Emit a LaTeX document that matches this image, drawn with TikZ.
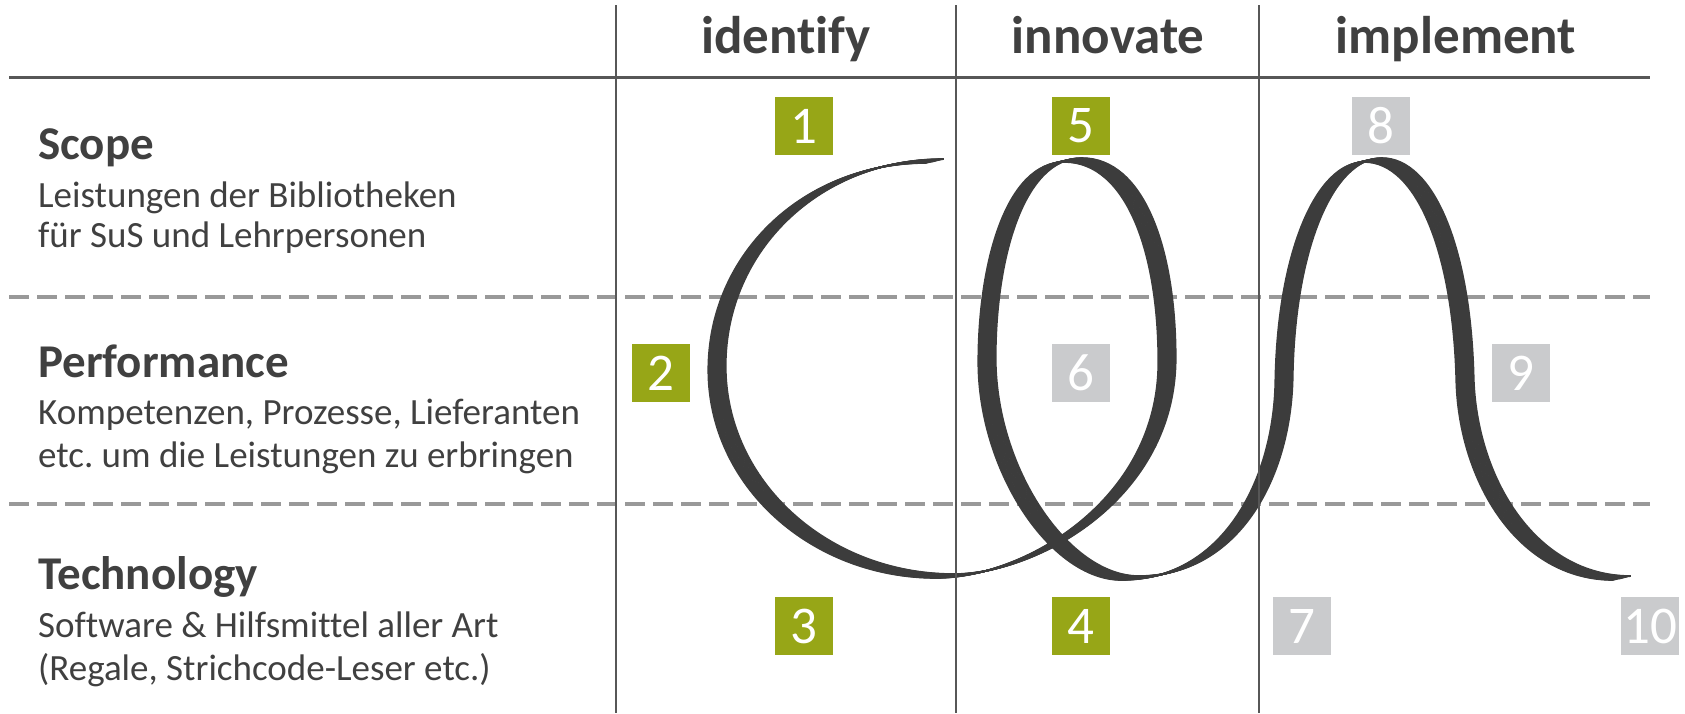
\documentclass[tikz,border=0pt]{standalone}
\usepackage{fontspec}
\setmainfont{Carlito}[Ligatures={NoCommon}]
\frenchspacing
\definecolor{txt}{HTML}{404040}
\definecolor{boxgreen}{HTML}{97A617}
\definecolor{boxgray}{HTML}{CACBCD}
\definecolor{rib}{HTML}{3C3C3C}
\definecolor{gridline}{HTML}{575757}
\definecolor{dashline}{HTML}{999999}
\begin{document}
\begin{tikzpicture}[x=1pt,y=-1pt,
  numbox/.style={minimum width=58pt, minimum height=58pt, inner sep=0pt, text=white, font=\fontsize{53}{60}\selectfont},
  greenbox/.style={numbox, fill=boxgreen},
  graybox/.style={numbox, fill=boxgray},
  header/.style={font=\bfseries\fontsize{53}{60}\selectfont, text=txt, anchor=base, inner sep=0pt},
  rowtitle/.style={font=\bfseries\fontsize{47}{54}\selectfont, text=txt, anchor=base west, inner sep=0pt},
  rowtext/.style={font=\fontsize{37}{42}\selectfont, text=txt, anchor=base west, inner sep=0pt},
  ribbon/.style={draw=rib, line width=1.6pt, line cap=butt, line join=round},
  dashrule/.style={draw=dashline, line width=3.5pt, dash pattern=on 20pt off 8pt},
  solidrule/.style={draw=gridline, line width=3pt},
  colrule/.style={draw=gridline, line width=2pt}]
\useasboundingbox (0,0) rectangle (1685,713);
% horizontal rules
\draw[solidrule] (9,77) -- (1650,77);
\draw[dashrule] (9,297) -- (1650,297);
\draw[dashrule] (9,504) -- (1650,504);
% ribbon
\foreach \s in {-9,-8,...,9} {
  \draw[ribbon, shift={(\s*0.974pt, \s*0.225pt)}]
    (935,161) .. controls (812,161) and (717,252) .. (717,368)
    .. controls (717,484) and (820,576) .. (945,576)
    .. controls (1030,576) and (1167,500) .. (1167,360)
    .. controls (1167,250) and (1135,160) .. (1073,160)
    .. controls (1015,160) and (987,260) .. (987,360)
    .. controls (987,470) and (1060,578) .. (1130,578)
    .. controls (1230,578) and (1282,480) .. (1284,380)
    .. controls (1286,250) and (1325,160) .. (1373,160)
    .. controls (1425,160) and (1462,250) .. (1465,380)
    .. controls (1468,480) and (1527,578) .. (1622,578);
}
% column rules
\draw[colrule] (616,5) -- (616,713);
\draw[colrule] (956,5) -- (956,713);
\draw[colrule] (1259,5) -- (1259,713);
% headers
\node[header] (hid) at (786,53) {identify};
\node[header] (hin) at (1108,53) {innovate};
\node[header] (him) at (1456,53) {implement};
% row labels
\node[rowtitle] (scope) at (38,159) {Scope};
\node[rowtext] (scope1) at (38,207) {Leistungen der Bibliotheken};
\node[rowtext] (scope2) at (38,247) {für SuS und Lehrpersonen};
\node[rowtitle] (perf) at (38,377) {Performance};
\node[rowtext] (perf1) at (38,424) {Kompetenzen, Prozesse, Lieferanten};
\node[rowtext] (perf2) at (38,467) {etc. um die Leistungen zu erbringen};
\node[rowtitle] (tech) at (38,589) {Technology};
\node[rowtext] (tech1) at (38,637) {Software \& Hilfsmittel aller Art};
\node[rowtext] (tech2) at (38,680) {(Regale, Strichcode-Leser etc.)};
% number boxes
\node[greenbox] (n1) at (804,126) {1};
\node[greenbox] (n2) at (661,373) {2};
\node[greenbox] (n3) at (804,626) {3};
\node[greenbox] (n4) at (1081,626) {4};
\node[greenbox] (n5) at (1081,126) {5};
\node[graybox] (n6) at (1081,373) {6};
\node[graybox] (n7) at (1302,626) {7};
\node[graybox] (n8) at (1381,126) {8};
\node[graybox] (n9) at (1521,373) {9};
\node[graybox] (n10) at (1650,626) {10};
\end{tikzpicture}
\end{document}
